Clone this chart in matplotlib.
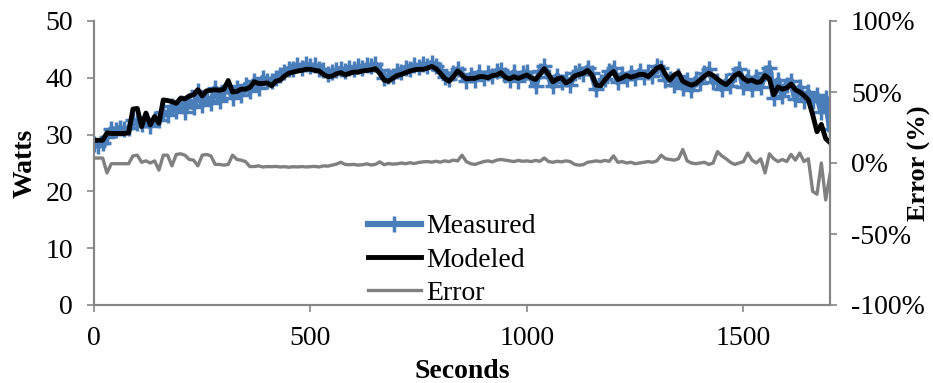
import matplotlib
matplotlib.use("Agg")
import matplotlib.pyplot as plt
from matplotlib.ticker import FuncFormatter

plt.rcParams['font.family'] = ['Liberation Serif', 'DejaVu Serif']

seconds = list(range(0, 1701, 10))

modeled = [
    29.0, 29.0, 29.0, 30.3, 30.2, 30.2, 30.2, 30.2, 30.3, 34.5,
    34.6, 31.4, 33.8, 31.7, 33.2, 32.0, 36.1, 36.0, 35.8, 35.5,
    36.4, 36.3, 36.8, 37.0, 37.9, 36.8, 37.7, 37.8, 37.9, 37.8,
    38.0, 39.5, 37.5, 37.6, 38.0, 38.0, 38.3, 39.3, 39.0, 39.0,
    39.1, 38.6, 39.4, 39.6, 40.3, 40.8, 41.0, 41.2, 41.3, 41.5,
    41.5, 41.3, 41.2, 40.6, 40.2, 40.3, 40.7, 40.9, 40.5, 40.8,
    41.0, 41.0, 41.2, 41.3, 41.4, 41.6, 40.8, 39.6, 39.4, 39.9,
    40.4, 40.6, 40.9, 41.2, 41.4, 41.5, 41.5, 41.7, 42.0, 41.6,
    40.8, 39.9, 39.4, 40.2, 41.2, 40.5, 39.8, 39.9, 39.9, 40.2,
    40.2, 40.0, 40.4, 40.5, 40.9, 40.1, 39.8, 40.2, 39.9, 40.2,
    40.5, 40.0, 39.7, 40.6, 41.6, 40.6, 39.3, 39.8, 40.0, 39.1,
    39.5, 40.3, 40.6, 40.8, 41.3, 40.5, 38.7, 38.6, 39.6, 40.5,
    41.1, 39.7, 40.0, 40.4, 40.1, 40.3, 40.6, 40.6, 40.2, 40.9,
    41.7, 42.0, 40.6, 39.6, 40.5, 40.9, 39.4, 39.0, 38.7, 39.0,
    39.6, 40.3, 40.8, 40.4, 39.8, 39.2, 38.8, 39.5, 40.4, 40.8,
    39.9, 39.4, 39.6, 39.2, 39.3, 40.4, 39.8, 37.0, 38.4, 38.0,
    38.2, 38.9, 37.9, 37.5, 36.9, 36.1, 33.5, 30.5, 31.8, 29.3,
    28.6,
]

measured = [
    28.3, 28.0, 28.5, 29.5, 31.0, 30.8, 31.2, 30.9, 31.1, 32.5,
    32.0, 31.8, 32.6, 31.5, 32.8, 32.6, 34.0, 33.5, 35.0, 34.2,
    35.5, 34.0, 36.0, 34.8, 37.6, 35.2, 36.5, 35.5, 38.2, 36.0,
    37.5, 38.6, 36.5, 38.2, 37.0, 38.8, 37.6, 39.5, 38.2, 40.0,
    39.4, 39.5, 40.0, 40.5, 41.0, 41.6, 41.5, 42.2, 41.8, 42.4,
    42.0, 42.2, 41.5, 41.4, 40.6, 41.1, 41.3, 41.6, 41.2, 41.8,
    41.5, 42.0, 41.7, 42.2, 42.0, 42.4, 41.4, 40.0, 40.3, 40.4,
    41.2, 41.0, 41.8, 41.6, 42.2, 41.9, 42.4, 42.1, 42.6, 42.0,
    41.4, 40.2, 39.8, 40.8, 41.5, 40.6, 39.5, 40.5, 39.6, 41.0,
    40.0, 40.8, 40.3, 41.2, 41.4, 40.5, 39.6, 41.0, 39.5, 40.8,
    41.0, 40.0, 38.6, 41.2, 42.0, 40.2, 38.5, 40.4, 39.3, 39.8,
    38.8, 40.8, 41.2, 40.6, 41.8, 40.8, 38.0, 39.2, 39.8, 41.2,
    41.8, 39.2, 40.6, 39.8, 40.9, 40.0, 41.2, 40.2, 41.0, 40.4,
    42.0, 41.8, 39.6, 39.8, 38.8, 40.4, 38.2, 39.6, 37.8, 39.8,
    39.0, 40.8, 41.5, 39.2, 39.4, 38.0, 39.4, 38.6, 40.6, 41.6,
    38.4, 40.2, 38.0, 40.2, 38.4, 40.8, 41.8, 36.5, 39.6, 36.8,
    38.8, 39.5, 36.2, 38.4, 36.0, 37.5, 36.0, 37.0, 34.0, 36.5,
    31.0,
]

error_pct = [
    3.5, 3.5, 3.5, -7.0, -0.5, -0.5, -0.5, -0.5, -0.5, 5.0,
    5.5, 0.5, 1.5, 0.0, 1.5, -5.0, 5.5, 5.5, -2.0, 6.0,
    6.5, 5.5, 2.5, 2.0, -2.0, 5.5, 6.0, 5.0, -1.0, -1.0,
    -1.5, -1.0, 5.5, 2.5, 2.0, 1.0, -2.5, -2.5, -2.0, -2.8,
    -2.5, -2.6, -2.4, -2.8, -2.6, -3.0, -2.6, -2.8, -2.5, -2.8,
    -2.6, -2.4, -2.8, -2.0, -2.2, -1.5, -0.8, 0.5, -1.0, -1.2,
    -1.0, -1.5, -1.2, -0.6, -1.4, -1.0, 0.8, -1.2, -0.4, -0.8,
    -0.6, 0.0, -0.5, 0.2, -0.4, 0.4, 0.8, 1.0, 0.6, 1.2,
    0.6, 1.5, 1.0, 2.0, 1.5, 5.5, 1.0, -0.5, -1.0, 0.0,
    1.0, 1.5, 0.8, 2.0, 2.5, 2.0, 1.5, 1.0, 1.8, 1.2,
    1.5, 1.0, 1.8, 1.2, 3.5, 1.0, 0.5, 1.2, 0.8, 1.5,
    1.0, -1.0, -1.5, -1.2, 0.5, 1.0, 1.5, 1.0, 1.8, 1.2,
    5.0, 0.5, 1.0, 0.0, 0.5, -0.5, 0.0, 0.5, 1.0, 0.5,
    1.5, 5.5, 3.0, 2.5, 2.0, 3.0, 9.5, 1.5, 0.0, -0.5,
    0.0, 0.5, -1.0, 0.0, 8.0, 5.0, 3.0, 0.5, -1.0, 0.0,
    1.0, 7.0, 2.0, 0.0, 3.0, -7.0, 6.5, 3.0, 1.0, 2.5,
    1.0, 6.0, 2.0, 7.0, 1.0, 3.0, -20.0, -22.0, 0.0, -26.0,
    -8.0,
]

x_ticks = [0, 500, 1000, 1500]
watt_ticks = [0, 10, 20, 30, 40, 50]
err_ticks = [-100, -50, 0, 50, 100]

BLUE = '#4A7EBB'
SPINE = '#868686'
FS = 20

fig = plt.figure(figsize=(9.33, 3.83), dpi=100)
ax = fig.add_axes([94/933, 1-305/383, 736/933, 284/383])
ax2 = ax.twinx()

l1, = ax.plot(seconds, measured, color=BLUE, lw=4.5, marker='+', ms=12, mew=2.5,
              label='Measured', zorder=2)
l2, = ax.plot(seconds, modeled, color='black', lw=3.5, label='Modeled', zorder=3)
l3, = ax2.plot(seconds, error_pct, color='#808080', lw=2.4, label='Error')

ax.set_xlim(0, 1700)
ax.set_ylim(0, 50)
ax2.set_ylim(-100, 100)
ax.set_xticks(x_ticks)
ax.set_yticks(watt_ticks)
ax2.set_yticks(err_ticks)
ax2.yaxis.set_major_formatter(FuncFormatter(lambda v, p: f'{int(v)}%'))

for a in (ax, ax2):
    a.spines['top'].set_visible(False)
    for s in ('left', 'right', 'bottom'):
        a.spines[s].set_color(SPINE)
        a.spines[s].set_linewidth(1.5)
    a.tick_params(axis='both', direction='out', length=5, width=1.2, color=SPINE,
                  labelsize=FS, labelcolor='black', pad=10)

ax.set_ylabel('Watts', fontsize=FS, fontweight='bold', labelpad=6)
ax2.set_ylabel('Error (%)', fontsize=FS - 1, fontweight='bold', rotation=90,
               va='center', ha='center')
ax2.yaxis.set_label_coords((919 - 94) / 736, 0.5)
ax.set_xlabel('Seconds', fontsize=FS, fontweight='bold', labelpad=6)

leg_handles = [l1, l2, l3]
ax2.legend(handles=leg_handles, loc='upper left',
           bbox_to_anchor=(368/933, 1-214/383), bbox_transform=fig.transFigure,
           frameon=False, fontsize=FS, handlelength=1.9, handletextpad=0.2,
           labelspacing=0.28, borderpad=0, borderaxespad=0)

fig.savefig('out.png', dpi=100)
